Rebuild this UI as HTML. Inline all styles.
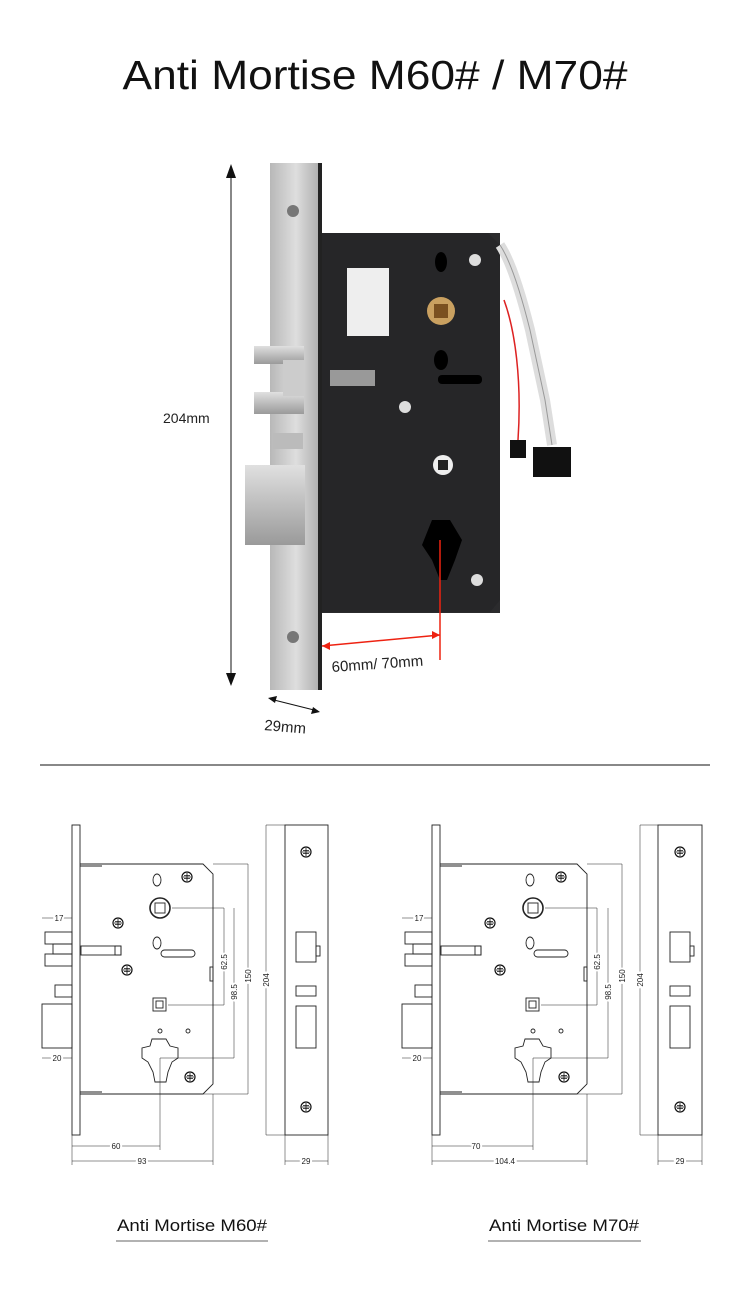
<!DOCTYPE html>
<html><head><meta charset="utf-8"><style>
body{margin:0;background:#fff;}
svg{display:block;font-family:"Liberation Sans",sans-serif;}
</style></head><body>
<svg width="750" height="1300" viewBox="0 0 750 1300">
<defs>
<linearGradient id="steel" x1="0" x2="1"><stop offset="0" stop-color="#b8b8b8"/><stop offset="0.5" stop-color="#dedede"/><stop offset="1" stop-color="#a8a8a8"/></linearGradient>
<linearGradient id="bolt" x1="0" y1="0" x2="0" y2="1"><stop offset="0" stop-color="#e0e0e0"/><stop offset="1" stop-color="#9a9a9a"/></linearGradient>
<g id="scr"><circle r="5" fill="none" stroke="#111" stroke-width="1.2"/><path d="M-4 0H4M0-4V4M-3-1.5H3M-3 1.5H3" stroke="#111" stroke-width="0.8"/></g>
</defs>
<text x="375" y="89" text-anchor="middle" font-size="41" fill="#111" textLength="505" lengthAdjust="spacingAndGlyphs">Anti Mortise M60# / M70#</text>

<!-- photo -->
<line x1="231" y1="170" x2="231" y2="683" stroke="#111" stroke-width="1"/>
<path d="M226 178L231 164L236 178Z M226 673L231 686L236 673Z" fill="#111"/>
<text x="163" y="423" font-size="14" fill="#222">204mm</text>
<rect x="322" y="233" width="178" height="380" fill="#2b2b2d"/>
<path d="M488 233L500 245V600L490 612H322V233Z" fill="#262628"/>
<rect x="347" y="268" width="42" height="68" fill="#eee"/>
<ellipse cx="441" cy="262" rx="6" ry="10" fill="#000"/>
<circle cx="441" cy="311" r="14" fill="#c9a060"/><rect x="434" y="304" width="14" height="14" fill="#7a5020"/>
<ellipse cx="441" cy="360" rx="7" ry="10" fill="#000"/>
<rect x="438" y="375" width="44" height="9" rx="4" fill="#000"/>
<circle cx="405" cy="407" r="6" fill="#ddd"/><circle cx="475" cy="260" r="6" fill="#ddd"/><circle cx="477" cy="580" r="6" fill="#ddd"/>
<circle cx="443" cy="465" r="10" fill="#eee"/><rect x="438" y="460" width="10" height="10" fill="#222"/>
<path d="M432 520L450 520L462 540L455 560L447 580L440 580L432 560L422 545Z" fill="#000"/>
<rect x="330" y="370" width="45" height="16" fill="#999"/>
<path d="M500 245C510 260 520 290 530 330L545 400L552 445" stroke="#ddd" stroke-width="10" fill="none"/>
<path d="M500 245C510 260 520 290 530 330L545 400L552 445" stroke="#999" stroke-width="1" fill="none"/>
<path d="M504 300C515 330 522 380 518 440" stroke="#d22" stroke-width="1.5" fill="none"/>
<rect x="510" y="440" width="16" height="18" fill="#111"/><rect x="533" y="447" width="38" height="30" fill="#111"/>
<rect x="270" y="163" width="52" height="527" fill="url(#steel)"/>
<rect x="318" y="163" width="4" height="527" fill="#222"/>
<circle cx="293" cy="211" r="6" fill="#777"/><circle cx="293" cy="637" r="6" fill="#777"/>
<rect x="254" y="346" width="50" height="18" fill="url(#bolt)"/><rect x="254" y="392" width="50" height="22" fill="url(#bolt)"/>
<rect x="283" y="360" width="22" height="36" fill="#ccc"/>
<rect x="273" y="433" width="30" height="16" fill="#bbb"/>
<rect x="245" y="465" width="60" height="80" fill="url(#bolt)"/>
<line x1="322" y1="646" x2="440" y2="635" stroke="#e21" stroke-width="1.5"/>
<line x1="440" y1="540" x2="440" y2="660" stroke="#e21" stroke-width="1.5"/>
<path d="M322 646L330 642L330 650Z M440 635L432 631L432 639Z" fill="#e21"/>
<text x="332" y="672" font-size="15" fill="#222" transform="rotate(-4 332 672)">60mm/ 70mm</text>
<line x1="270" y1="699" x2="318" y2="711" stroke="#111"/>
<path d="M268 698L277 696L275 703Z M320 712L311 714L313 707Z" fill="#111"/>
<text x="264" y="730" font-size="15" fill="#222" transform="rotate(5 264 730)">29mm</text>

<line x1="40" y1="765" x2="710" y2="765" stroke="#111" stroke-width="1"/>

<!-- drawings -->
<g id="dl" fill="none" stroke="#222" stroke-width="0.9" font-size="8">
<rect x="72" y="825" width="8" height="310" fill="#fff"/>
<path d="M80 864H203L213 874V1084L203 1094H80"/>
<line x1="80" y1="866" x2="102" y2="866"/><line x1="80" y1="1092" x2="102" y2="1092"/>
<ellipse cx="157" cy="880" rx="4" ry="6"/><ellipse cx="157" cy="943" rx="4" ry="6"/>
<circle cx="160" cy="908" r="10" stroke-width="1.6"/><rect x="155" y="903" width="10" height="10"/>
<rect x="153" y="998" width="13" height="13"/><rect x="156" y="1001" width="7" height="7"/>
<rect x="161" y="950" width="34" height="7" rx="3.5"/>
<use href="#scr" x="187" y="877"/><use href="#scr" x="118" y="923"/><use href="#scr" x="127" y="970"/><use href="#scr" x="190" y="1077"/>
<circle cx="160" cy="1031" r="2"/><circle cx="188" cy="1031" r="2"/>
<path d="M152 1039L166 1039L170 1046L178 1048V1058L172 1062L168 1072L166 1082H155L153 1072L148 1062L142 1058V1048L150 1046Z"/>
<rect x="210" y="967" width="3" height="14"/>
<rect x="45" y="932" width="27" height="12"/><rect x="45" y="954" width="27" height="12"/><rect x="53" y="944" width="19" height="10"/>
<rect x="81" y="946" width="40" height="9"/><rect x="115" y="946" width="6" height="9"/>
<rect x="55" y="985" width="17" height="12"/>
<rect x="42" y="1004" width="30" height="44"/>
<line x1="172" y1="908" x2="224" y2="908" stroke-width="0.5"/><line x1="168" y1="1005" x2="224" y2="1005" stroke-width="0.5"/>
<line x1="160" y1="1058" x2="234" y2="1058" stroke-width="0.5"/>
<line x1="213" y1="864" x2="248" y2="864" stroke-width="0.5"/><line x1="203" y1="1094" x2="248" y2="1094" stroke-width="0.5"/>
<line x1="224" y1="908" x2="224" y2="1005" stroke-width="0.5"/><line x1="234" y1="908" x2="234" y2="1058" stroke-width="0.5"/>
<line x1="248" y1="864" x2="248" y2="1094" stroke-width="0.5"/>
<line x1="266" y1="825" x2="266" y2="1135" stroke-width="0.5"/>
<line x1="266" y1="825" x2="285" y2="825" stroke-width="0.5"/><line x1="266" y1="1135" x2="285" y2="1135" stroke-width="0.5"/>
<rect x="285" y="825" width="43" height="310" fill="#fff"/>
<use href="#scr" x="306" y="852"/><use href="#scr" x="306" y="1107"/>
<rect x="296" y="932" width="20" height="30"/><rect x="316" y="946" width="4" height="10"/>
<rect x="296" y="986" width="20" height="10"/><rect x="296" y="1006" width="20" height="42"/>
<line x1="72" y1="1135" x2="72" y2="1165" stroke-width="0.5"/><line x1="160" y1="1058" x2="160" y2="1150" stroke-width="0.5"/>
<line x1="213" y1="1094" x2="213" y2="1165" stroke-width="0.5"/>
<line x1="285" y1="1135" x2="285" y2="1165" stroke-width="0.5"/><line x1="328" y1="1135" x2="328" y2="1165" stroke-width="0.5"/>
<line x1="72" y1="1146" x2="160" y2="1146" stroke-width="0.5"/><line x1="72" y1="1161" x2="213" y2="1161" stroke-width="0.5"/>
<line x1="285" y1="1161" x2="328" y2="1161" stroke-width="0.5"/>
<line x1="42" y1="918" x2="72" y2="918" stroke-width="0.5"/><line x1="42" y1="1058" x2="72" y2="1058" stroke-width="0.5"/>
<g fill="#222" stroke="none">
<text x="116" y="1149" text-anchor="middle" stroke="#fff" stroke-width="4" paint-order="stroke">60</text>
<text x="142" y="1164" text-anchor="middle" stroke="#fff" stroke-width="4" paint-order="stroke">93</text>
<text x="306" y="1164" text-anchor="middle" stroke="#fff" stroke-width="4" paint-order="stroke">29</text>
<text x="59" y="921" text-anchor="middle" stroke="#fff" stroke-width="4" paint-order="stroke">17</text>
<text x="57" y="1061" text-anchor="middle" stroke="#fff" stroke-width="4" paint-order="stroke">20</text>
<text transform="translate(227 962) rotate(-90)" text-anchor="middle" stroke="#fff" stroke-width="4" paint-order="stroke">62.5</text>
<text transform="translate(237 992) rotate(-90)" text-anchor="middle" stroke="#fff" stroke-width="4" paint-order="stroke">98.5</text>
<text transform="translate(251 976) rotate(-90)" text-anchor="middle" stroke="#fff" stroke-width="4" paint-order="stroke">150</text>
<text transform="translate(269 980) rotate(-90)" text-anchor="middle" stroke="#fff" stroke-width="4" paint-order="stroke">204</text>
</g>
</g>

<g fill="none" stroke="#222" stroke-width="0.9" font-size="8">
<rect x="432" y="825" width="8" height="310" fill="#fff"/>
<path d="M440 864H577L587 874V1084L577 1094H440"/>
<line x1="440" y1="866" x2="462" y2="866"/><line x1="440" y1="1092" x2="462" y2="1092"/>
<ellipse cx="530" cy="880" rx="4" ry="6"/><ellipse cx="530" cy="943" rx="4" ry="6"/>
<circle cx="533" cy="908" r="10" stroke-width="1.6"/><rect x="528" y="903" width="10" height="10"/>
<rect x="526" y="998" width="13" height="13"/><rect x="529" y="1001" width="7" height="7"/>
<rect x="534" y="950" width="34" height="7" rx="3.5"/>
<use href="#scr" x="561" y="877"/><use href="#scr" x="490" y="923"/><use href="#scr" x="500" y="970"/><use href="#scr" x="564" y="1077"/>
<circle cx="533" cy="1031" r="2"/><circle cx="561" cy="1031" r="2"/>
<path d="M525 1039L539 1039L543 1046L551 1048V1058L545 1062L541 1072L539 1082H528L526 1072L521 1062L515 1058V1048L523 1046Z"/>
<rect x="584" y="967" width="3" height="14"/>
<rect x="405" y="932" width="27" height="12"/><rect x="405" y="954" width="27" height="12"/><rect x="413" y="944" width="19" height="10"/>
<rect x="441" y="946" width="40" height="9"/><rect x="475" y="946" width="6" height="9"/>
<rect x="415" y="985" width="17" height="12"/>
<rect x="402" y="1004" width="30" height="44"/>
<line x1="545" y1="908" x2="597" y2="908" stroke-width="0.5"/><line x1="541" y1="1005" x2="597" y2="1005" stroke-width="0.5"/>
<line x1="533" y1="1058" x2="608" y2="1058" stroke-width="0.5"/>
<line x1="587" y1="864" x2="622" y2="864" stroke-width="0.5"/><line x1="577" y1="1094" x2="622" y2="1094" stroke-width="0.5"/>
<line x1="597" y1="908" x2="597" y2="1005" stroke-width="0.5"/><line x1="608" y1="908" x2="608" y2="1058" stroke-width="0.5"/>
<line x1="622" y1="864" x2="622" y2="1094" stroke-width="0.5"/>
<line x1="640" y1="825" x2="640" y2="1135" stroke-width="0.5"/>
<line x1="640" y1="825" x2="658" y2="825" stroke-width="0.5"/><line x1="640" y1="1135" x2="658" y2="1135" stroke-width="0.5"/>
<rect x="658" y="825" width="44" height="310" fill="#fff"/>
<use href="#scr" x="680" y="852"/><use href="#scr" x="680" y="1107"/>
<rect x="670" y="932" width="20" height="30"/><rect x="690" y="946" width="4" height="10"/>
<rect x="670" y="986" width="20" height="10"/><rect x="670" y="1006" width="20" height="42"/>
<line x1="432" y1="1135" x2="432" y2="1165" stroke-width="0.5"/><line x1="533" y1="1058" x2="533" y2="1150" stroke-width="0.5"/>
<line x1="587" y1="1094" x2="587" y2="1165" stroke-width="0.5"/>
<line x1="658" y1="1135" x2="658" y2="1165" stroke-width="0.5"/><line x1="702" y1="1135" x2="702" y2="1165" stroke-width="0.5"/>
<line x1="432" y1="1146" x2="533" y2="1146" stroke-width="0.5"/><line x1="432" y1="1161" x2="587" y2="1161" stroke-width="0.5"/>
<line x1="658" y1="1161" x2="702" y2="1161" stroke-width="0.5"/>
<line x1="402" y1="918" x2="432" y2="918" stroke-width="0.5"/><line x1="402" y1="1058" x2="432" y2="1058" stroke-width="0.5"/>
<g fill="#222" stroke="none">
<text x="476" y="1149" text-anchor="middle" stroke="#fff" stroke-width="4" paint-order="stroke">70</text>
<text x="505" y="1164" text-anchor="middle" stroke="#fff" stroke-width="4" paint-order="stroke">104.4</text>
<text x="680" y="1164" text-anchor="middle" stroke="#fff" stroke-width="4" paint-order="stroke">29</text>
<text x="419" y="921" text-anchor="middle" stroke="#fff" stroke-width="4" paint-order="stroke">17</text>
<text x="417" y="1061" text-anchor="middle" stroke="#fff" stroke-width="4" paint-order="stroke">20</text>
<text transform="translate(600 962) rotate(-90)" text-anchor="middle" stroke="#fff" stroke-width="4" paint-order="stroke">62.5</text>
<text transform="translate(611 992) rotate(-90)" text-anchor="middle" stroke="#fff" stroke-width="4" paint-order="stroke">98.5</text>
<text transform="translate(625 976) rotate(-90)" text-anchor="middle" stroke="#fff" stroke-width="4" paint-order="stroke">150</text>
<text transform="translate(643 980) rotate(-90)" text-anchor="middle" stroke="#fff" stroke-width="4" paint-order="stroke">204</text>
</g>
</g>

<text x="192" y="1231" text-anchor="middle" font-size="17" fill="#111" textLength="150" lengthAdjust="spacingAndGlyphs">Anti Mortise M60#</text>
<line x1="116" y1="1241" x2="268" y2="1241" stroke="#999" stroke-width="1.5"/>
<text x="564" y="1231" text-anchor="middle" font-size="17" fill="#111" textLength="150" lengthAdjust="spacingAndGlyphs">Anti Mortise M70#</text>
<line x1="488" y1="1241" x2="641" y2="1241" stroke="#999" stroke-width="1.5"/>
</svg>
</body></html>
